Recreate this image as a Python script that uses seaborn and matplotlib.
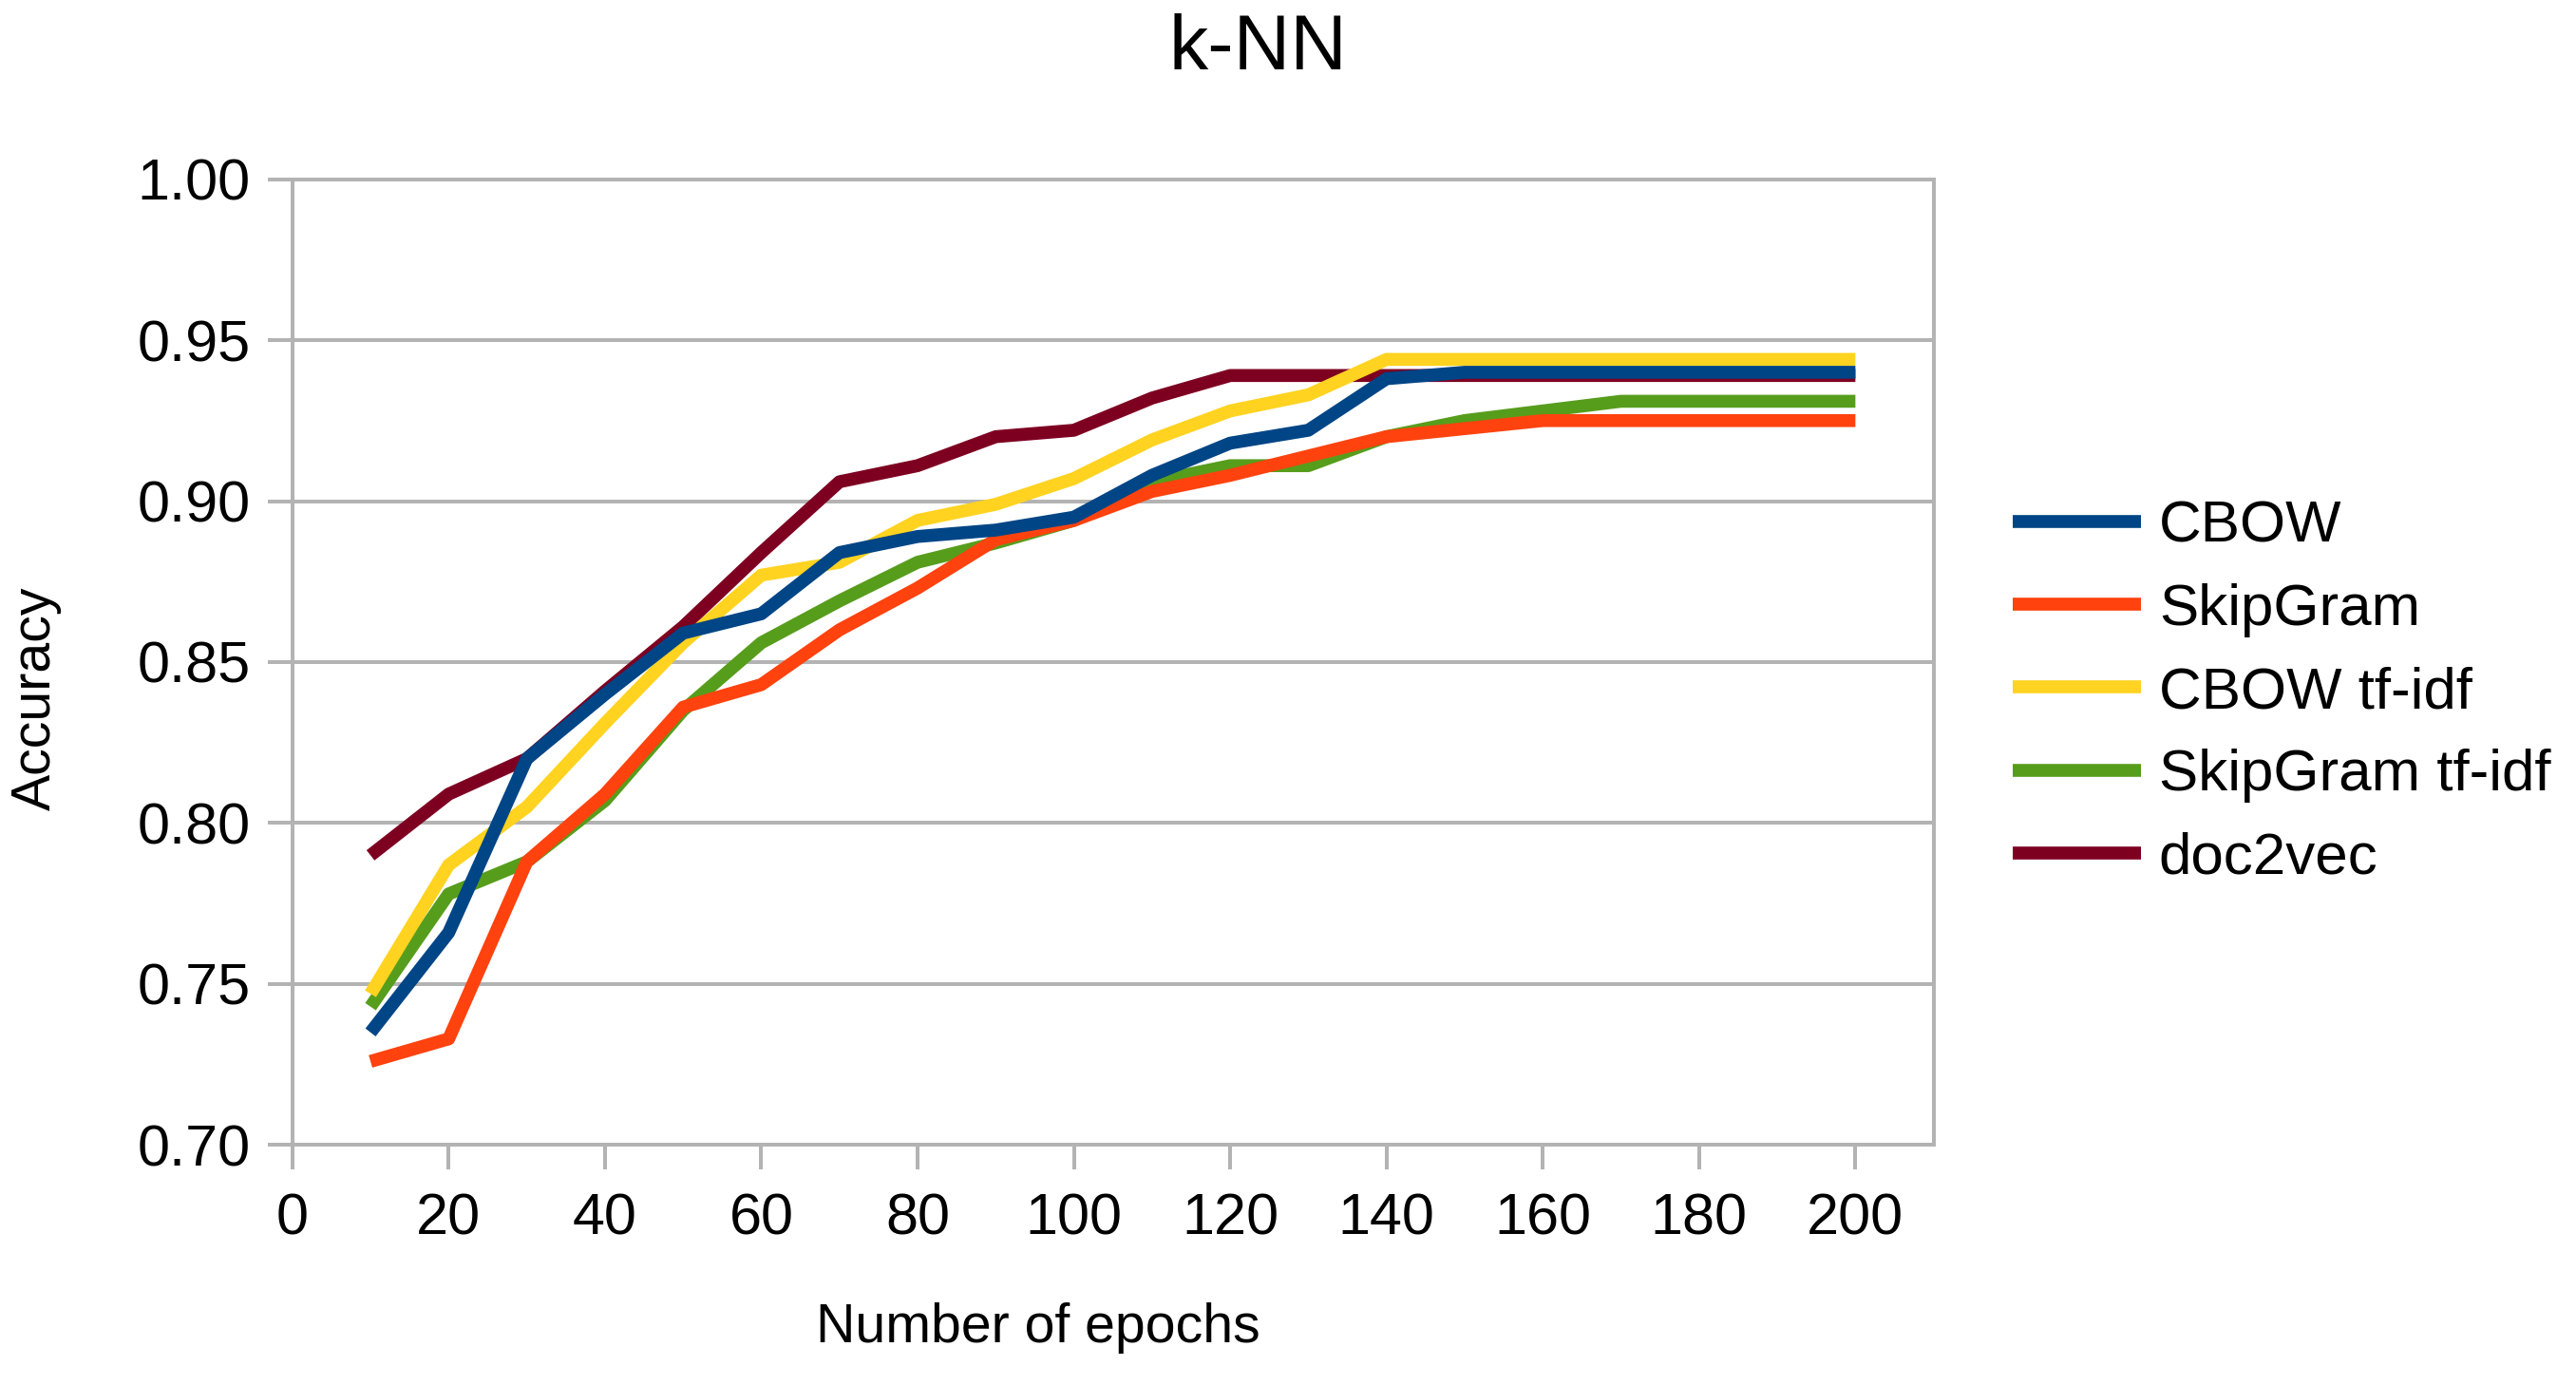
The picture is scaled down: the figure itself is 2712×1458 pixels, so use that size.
import pandas as pd
import matplotlib
matplotlib.use("Agg")
import matplotlib.pyplot as plt
from matplotlib.ticker import FormatStrFormatter
import seaborn as sns

# Data (accuracy of k-NN per number of epochs)

epochs = list(range(10, 210, 10))

cbow = [0.735, 0.766, 0.820, 0.840, 0.859, 0.865, 0.884, 0.889, 0.891, 0.895,
        0.908, 0.918, 0.922, 0.938, 0.940, 0.940, 0.940, 0.940, 0.940, 0.940]
skipgram = [0.726, 0.733, 0.788, 0.809, 0.836, 0.843, 0.860, 0.873, 0.888, 0.894,
            0.903, 0.908, 0.914, 0.920, 0.9225, 0.925, 0.925, 0.925, 0.925, 0.925]
cbow_tfidf = [0.747, 0.787, 0.805, 0.831, 0.856, 0.877, 0.881, 0.894, 0.899, 0.907,
              0.919, 0.928, 0.933, 0.944, 0.944, 0.944, 0.944, 0.944, 0.944, 0.944]
skipgram_tfidf = [0.743, 0.778, 0.788, 0.807, 0.835, 0.856, 0.869, 0.881, 0.887, 0.894,
                  0.906, 0.911, 0.911, 0.920, 0.925, 0.928, 0.931, 0.931, 0.931, 0.931]
doc2vec = [0.790, 0.809, 0.820, 0.841, 0.861, 0.884, 0.906, 0.911, 0.920, 0.922,
           0.932, 0.939, 0.939, 0.939, 0.939, 0.939, 0.939, 0.939, 0.939, 0.939]

models = ["CBOW", "SkipGram", "CBOW tf-idf", "SkipGram tf-idf", "doc2vec"]
colors = ["#004586", "#ff420e", "#ffd320", "#579d1c", "#7e0021"]

wide = pd.DataFrame({
    "Epochs": epochs,
    "CBOW": cbow,
    "SkipGram": skipgram,
    "CBOW tf-idf": cbow_tfidf,
    "SkipGram tf-idf": skipgram_tfidf,
    "doc2vec": doc2vec,
})
df = wide.melt(id_vars="Epochs", var_name="Model", value_name="Accuracy")

sns.set_style("white")
plt.rcParams["font.family"] = ["Liberation Sans", "DejaVu Sans"]
plt.rcParams["text.color"] = "black"
plt.rcParams["axes.labelcolor"] = "black"

grey = "#b3b3b3"

fig = plt.figure(figsize=(13.56, 7.29), dpi=200)
ax = fig.add_axes([0.1135, 0.1732, 0.6371, 0.6975])

sns.lineplot(
    data=df,
    x="Epochs",
    y="Accuracy",
    hue="Model",
    hue_order=models,
    palette=colors,
    linewidth=4.9,
    errorbar=None,
    legend=False,
    ax=ax,
)

# first series drawn on top, like the original
lines = ax.get_lines()[:len(models)]
for i, ln in enumerate(lines):
    ln.set_zorder(10 - i)
    ln.set_solid_capstyle("butt")

ax.set_xlim(0, 210)
ax.set_ylim(0.70, 1.00)
ax.set_xticks(range(0, 201, 20))
ax.set_yticks([0.70, 0.75, 0.80, 0.85, 0.90, 0.95, 1.00])
ax.yaxis.set_major_formatter(FormatStrFormatter("%.2f"))

ax.set_axisbelow(True)
ax.yaxis.grid(True, color=grey, linewidth=1.44)
ax.xaxis.grid(False)
for side in ["left", "right", "top", "bottom"]:
    ax.spines[side].set_visible(True)
    ax.spines[side].set_color(grey)
    ax.spines[side].set_linewidth(1.44)

ax.tick_params(bottom=True, left=True, direction="out", length=9.4, width=1.44,
               color=grey, labelsize=22, labelcolor="black")
ax.tick_params(axis="x", pad=8.5)
ax.tick_params(axis="y", pad=6.5)

ax.set_xlabel("Number of epochs", fontsize=20.6, va="center")
ax.xaxis.set_label_coords(0.4545, -0.189)
ax.set_ylabel("Accuracy", fontsize=20.6, va="center")
ax.yaxis.set_label_coords(-0.156, 0.4626)

fig.text(0.4885, 0.964, "k-NN", ha="center", va="center", fontsize=29.7)

ax.legend(
    lines,
    models,
    loc="center left",
    bbox_to_anchor=(1.048, 0.468),
    frameon=False,
    fontsize=22.3,
    handlelength=2.19,
    handletextpad=0.3,
    labelspacing=0.49,
    borderpad=0,
    borderaxespad=0,
)

fig.savefig("out.png", dpi=200)
